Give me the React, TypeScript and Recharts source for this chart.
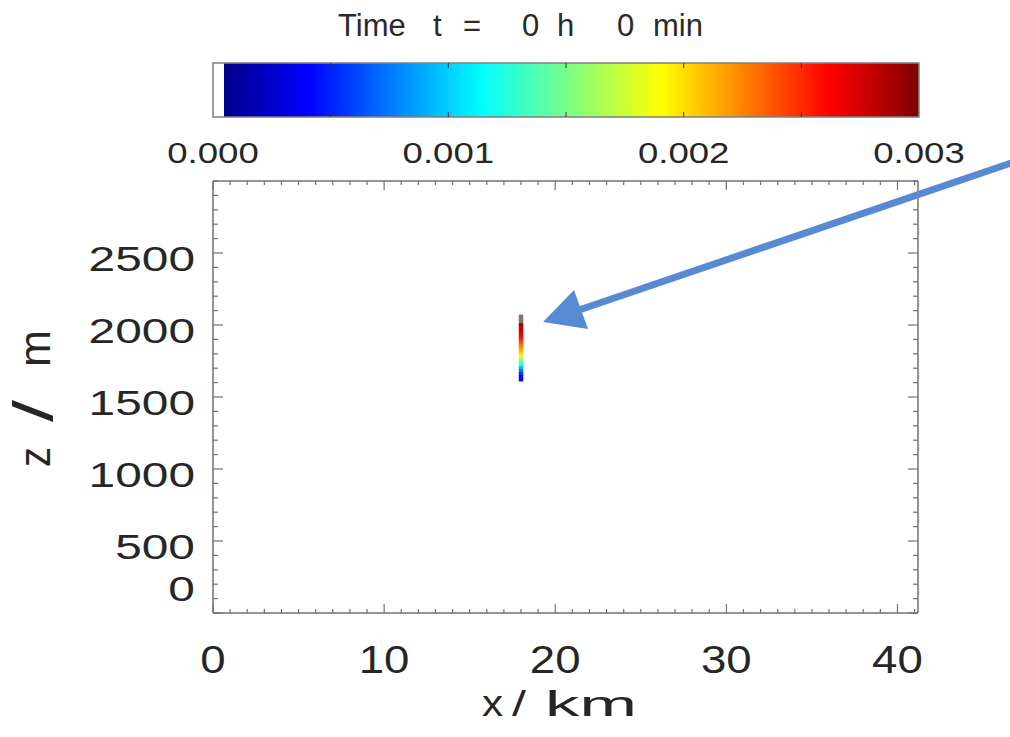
import React from 'react';
import { ComposedChart, XAxis, YAxis, Scatter, ReferenceArea } from 'recharts';

const FONT = '"Liberation Sans", Arial, Helvetica, sans-serif';
const AXIS = '#707070';
const INK = '#262626';

// axes: x / km and z / m
const xMajorTicks = [0, 10, 20, 30, 40];
const zMajorTicks = [0, 500, 1000, 1500, 2000, 2500];
const xDomain = [0, 41.2];
const zDomain = [0, 3000];
const xMinorTicks = Array.from({ length: 42 }, (_, i) => i);
const zMinorTicks = Array.from({ length: 31 }, (_, i) => i * 100);

// colour bar
const cbDomain = [0, 0.003];
const cbLabels = [0, 0.001, 0.002, 0.003];
const cbTicks = [0, 0.0005, 0.001, 0.0015, 0.002, 0.0025, 0.003];

// jet-like colour table
const jet = [
  { at: 0, color: [0, 0, 138] },
  { at: 0.12, color: [0, 0, 255] },
  { at: 0.37, color: [0, 255, 255] },
  { at: 0.63, color: [255, 255, 0] },
  { at: 0.87, color: [255, 0, 0] },
  { at: 1, color: [128, 0, 0] },
];

// the thin plume at x = 18 km (t = 0)
const plumeX = 18;
const plumeZ = [2060, 2040, 2020, 2000, 1980, 1960, 1940, 1920, 1900, 1880, 1860, 1840,
  1820, 1800, 1780, 1760, 1740, 1720, 1700, 1680, 1660, 1640, 1620];
const plumeQ = [0.0032, 0.0032, 0.0031, 0.0029, 0.0028, 0.0028, 0.0027, 0.0026, 0.0025, 0.0024, 0.0023, 0.0022,
  0.0021, 0.002, 0.0018, 0.0016, 0.0014, 0.0012, 0.0009, 0.0007, 0.0005, 0.0004, 0.0004];

const plume = plumeZ.map((z, i) => ({ x: plumeX, z, q: plumeQ[i] }));
const cbEnds = cbDomain.map((v) => ({ v, y: 0.5 }));

const rgb = (c: number[]) => `rgb(${c.map((v) => Math.round(v)).join(',')})`;

const jetColor = (q: number) => {
  if (q > cbDomain[1]) return '#85716e';
  const t = Math.max(0, Math.min(1, q / cbDomain[1]));
  for (let i = 1; i < jet.length; i++) {
    const a = jet[i - 1];
    const b = jet[i];
    if (t <= b.at) {
      const f = (t - a.at) / (b.at - a.at);
      return rgb(a.color.map((v, k) => v + (b.color[k] - v) * f));
    }
  }
  return rgb(jet[jet.length - 1].color);
};

const BottomTick = (p: any) => {
  const { x, y, payload } = p;
  const major = xMajorTicks.includes(payload.value);
  return (
    <g>
      <line x1={x} x2={x} y1={y} y2={y - (major ? 9 : 4)} stroke={AXIS} strokeWidth={1.2} />
      {major && (
        <text transform={`translate(${x},${y + 60}) scale(1.2,1)`} textAnchor="middle"
          fontSize={38} fill={INK} fontFamily={FONT}>{payload.value}</text>
      )}
    </g>
  );
};

const TopTick = (p: any) => {
  const { x, y, payload } = p;
  const major = xMajorTicks.includes(payload.value);
  return <line x1={x} x2={x} y1={y} y2={y + (major ? 9 : 4)} stroke={AXIS} strokeWidth={1.2} />;
};

const LeftTick = (p: any) => {
  const { x, y, payload } = p;
  const v = payload.value;
  const major = zMajorTicks.includes(v);
  return (
    <g>
      <line x1={x} x2={x + (major ? 10 : 5)} y1={y} y2={y} stroke={AXIS} strokeWidth={1.2} />
      {major && (
        <text transform={`translate(${x - 18},${y + (v === 0 ? -12 : 18)}) scale(1.33,1)`} textAnchor="end"
          fontSize={36} fill={INK} fontFamily={FONT}>{v}</text>
      )}
    </g>
  );
};

const RightTick = (p: any) => {
  const { x, y, payload } = p;
  const major = zMajorTicks.includes(payload.value);
  return <line x1={x} x2={x - (major ? 10 : 5)} y1={y} y2={y} stroke={AXIS} strokeWidth={1.2} />;
};

const CbBottomTick = (p: any) => {
  const { x, y, payload } = p;
  const v = payload.value;
  const inner = v > cbDomain[0] && v < cbDomain[1];
  return (
    <g>
      {inner && <line x1={x} x2={x} y1={y} y2={y - 5} stroke="#333" strokeWidth={1} />}
      {cbLabels.includes(v) && (
        <text transform={`translate(${x},${y + 46}) scale(1.22,1)`} textAnchor="middle"
          fontSize={30} fill={INK} fontFamily={FONT}>{v.toFixed(3)}</text>
      )}
    </g>
  );
};

const CbTopTick = (p: any) => {
  const { x, y, payload } = p;
  const v = payload.value;
  if (!(v > cbDomain[0] && v < cbDomain[1])) return <g />;
  return <line x1={x} x2={x} y1={y} y2={y + 5} stroke="#333" strokeWidth={1} />;
};

const PlumeCell = (p: any) => {
  const { cx, cy, payload } = p;
  return <rect x={cx - 2.2} y={cy - 1.8} width={4.4} height={3.6} fill={jetColor(payload.q)} />;
};

const NoShape = () => <g />;

const layer: React.CSSProperties = { position: 'absolute', left: 0, top: 0 };

export default function App() {
  return (
    <div style={{ position: 'absolute', left: 0, top: 0, width: 1010, height: 737, background: '#ffffff', overflow: 'hidden' }}>
      {/* main field plot */}
      <div style={layer}>
        <ComposedChart width={1010} height={737} margin={{ top: 180, right: 91, bottom: 123, left: 212 }}>
          <XAxis xAxisId="b" type="number" dataKey="x" domain={xDomain} allowDataOverflow ticks={xMinorTicks}
            interval={0} height={1} tickSize={0} tickMargin={0} tickLine={false}
            axisLine={{ stroke: AXIS, strokeWidth: 1.5 }} tick={(p: any) => <BottomTick {...p} />} />
          <XAxis xAxisId="t" orientation="top" type="number" dataKey="x" domain={xDomain} allowDataOverflow
            ticks={xMinorTicks} interval={0} height={1} tickSize={0} tickMargin={0} tickLine={false}
            axisLine={{ stroke: AXIS, strokeWidth: 1.5 }} tick={(p: any) => <TopTick {...p} />} />
          <YAxis yAxisId="l" type="number" dataKey="z" domain={zDomain} allowDataOverflow ticks={zMinorTicks}
            interval={0} width={1} tickSize={0} tickMargin={0} tickLine={false}
            axisLine={{ stroke: AXIS, strokeWidth: 1.5 }} tick={(p: any) => <LeftTick {...p} />} />
          <YAxis yAxisId="r" orientation="right" type="number" dataKey="z" domain={zDomain} allowDataOverflow
            ticks={zMinorTicks} interval={0} width={1} tickSize={0} tickMargin={0} tickLine={false}
            axisLine={{ stroke: AXIS, strokeWidth: 1.5 }} tick={(p: any) => <RightTick {...p} />} />
          <Scatter data={plume} dataKey="z" xAxisId="b" yAxisId="l" isAnimationActive={false} shape={PlumeCell} />
          <Scatter data={plume} dataKey="z" xAxisId="t" yAxisId="r" isAnimationActive={false} shape={NoShape} />
        </ComposedChart>
      </div>

      {/* colour bar */}
      <div style={layer}>
        <ComposedChart width={1010} height={181} margin={{ top: 62, right: 91, bottom: 63, left: 213 }}>
          <defs>
            <linearGradient id="jetGrad" x1="0" y1="0" x2="1" y2="0">
              <stop offset="0" stopColor="#ffffff" />
              <stop offset="0.015" stopColor="#ffffff" />
              {jet.map((s) => (
                <stop key={s.at} offset={0.016 + s.at * 0.984} stopColor={rgb(s.color)} />
              ))}
            </linearGradient>
          </defs>
          <XAxis xAxisId="cb" type="number" dataKey="v" domain={cbDomain} allowDataOverflow ticks={cbTicks} interval={0}
            height={1} tickSize={0} tickMargin={0} tickLine={false} axisLine={false}
            tick={(p: any) => <CbBottomTick {...p} />} />
          <XAxis xAxisId="cbt" orientation="top" type="number" dataKey="v" domain={cbDomain} allowDataOverflow
            ticks={cbTicks} interval={0} height={1} tickSize={0} tickMargin={0} tickLine={false} axisLine={false}
            tick={(p: any) => <CbTopTick {...p} />} />
          <YAxis yAxisId="cby" type="number" dataKey="y" domain={[0, 1]} allowDataOverflow hide width={0} />
          <Scatter data={cbEnds} dataKey="y" xAxisId="cb" yAxisId="cby" isAnimationActive={false} shape={NoShape} />
          <Scatter data={cbEnds} dataKey="y" xAxisId="cbt" yAxisId="cby" isAnimationActive={false} shape={NoShape} />
          <ReferenceArea xAxisId="cb" yAxisId="cby" x1={cbDomain[0]} x2={cbDomain[1]} y1={0} y2={1}
            fill="url(#jetGrad)" fillOpacity={1} stroke="#808080" strokeWidth={1.5} ifOverflow="visible" />
        </ComposedChart>
      </div>

      {/* titles and annotation arrow */}
      <svg width={1010} height={737} style={{ ...layer, pointerEvents: 'none' }} fontFamily={FONT}>
        <text y={36} fontSize={31} fill="#2a2a2a">
          <tspan x={338}>Time</tspan>
          <tspan x={433}>t</tspan>
          <tspan x={463}>=</tspan>
          <tspan x={522}>0</tspan>
          <tspan x={557}>h</tspan>
          <tspan x={617}>0</tspan>
          <tspan x={653}>min</tspan>
        </text>

        <text x={482} y={716} fontSize={36} fill={INK} textLength={21} lengthAdjust="spacingAndGlyphs">x</text>
        <text x={512} y={716} fontSize={35} fill={INK} textLength={14} lengthAdjust="spacingAndGlyphs">/</text>
        <text x={545} y={716} fontSize={35} fill={INK} textLength={92} lengthAdjust="spacingAndGlyphs">km</text>

        <text transform="translate(50,467) scale(1.25,1) rotate(-90)" fontSize={35} fill={INK} textLength={20} lengthAdjust="spacingAndGlyphs">z</text>
        <text transform="translate(52,422) scale(1.6,1) rotate(-90)" fontSize={35} fill={INK} textLength={22} lengthAdjust="spacingAndGlyphs">/</text>
        <text transform="translate(50,367) scale(1.25,1) rotate(-90)" fontSize={35} fill={INK} textLength={37} lengthAdjust="spacingAndGlyphs">m</text>

        <line x1={1014} y1={162} x2={579} y2={310} stroke="#568bd3" strokeWidth={7} />
        <polygon points="543,322 574,290 588,329" fill="#568bd3" />
      </svg>
    </div>
  );
}
